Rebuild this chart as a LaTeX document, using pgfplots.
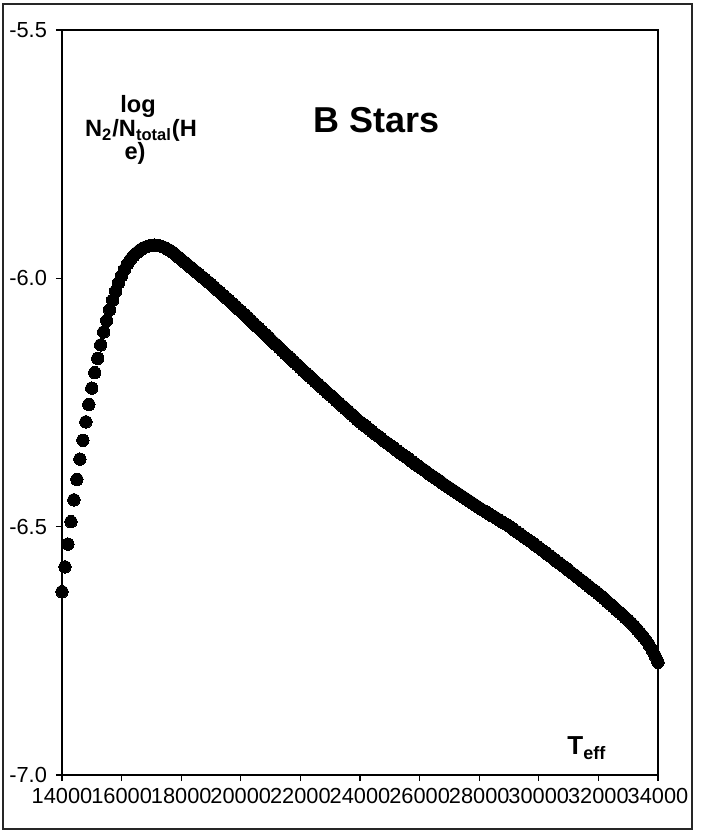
\documentclass[border=0pt]{standalone}
\usepackage{pgfplots}
\pgfplotsset{compat=1.18}
\usepackage{fontspec}
\setmainfont{Liberation Sans}

\pgfplotstableread{
T v
14000 -6.631
14100 -6.581
14200 -6.535
14300 -6.490
14400 -6.446
14500 -6.405
14600 -6.364
14700 -6.326
14800 -6.289
14900 -6.254
15000 -6.221
15100 -6.190
15200 -6.161
15300 -6.134
15400 -6.108
15500 -6.085
15600 -6.063
15700 -6.044
15800 -6.026
15900 -6.009
16000 -5.995
16100 -5.982
16200 -5.971
16300 -5.962
16400 -5.955
16500 -5.949
16600 -5.944
16700 -5.940
16800 -5.937
16900 -5.935
17000 -5.934
17100 -5.933
17200 -5.934
17300 -5.935
17400 -5.937
17500 -5.940
17600 -5.943
17700 -5.947
17800 -5.952
17900 -5.957
18000 -5.962
18100 -5.967
18200 -5.972
18300 -5.977
18400 -5.982
18500 -5.987
18600 -5.992
18700 -5.997
18800 -6.002
18900 -6.007
19000 -6.012
19100 -6.017
19200 -6.023
19300 -6.028
19400 -6.034
19500 -6.039
19600 -6.044
19700 -6.050
19800 -6.055
19900 -6.061
20000 -6.066
20100 -6.072
20200 -6.077
20300 -6.083
20400 -6.089
20500 -6.095
20600 -6.100
20700 -6.106
20800 -6.112
20900 -6.117
21000 -6.123
21100 -6.129
21200 -6.134
21300 -6.140
21400 -6.146
21500 -6.152
21600 -6.157
21700 -6.163
21800 -6.169
21900 -6.174
22000 -6.180
22100 -6.186
22200 -6.191
22300 -6.197
22400 -6.202
22500 -6.208
22600 -6.213
22700 -6.219
22800 -6.224
22900 -6.230
23000 -6.235
23100 -6.240
23200 -6.246
23300 -6.251
23400 -6.257
23500 -6.262
23600 -6.267
23700 -6.273
23800 -6.278
23900 -6.284
24000 -6.289
24100 -6.294
24200 -6.298
24300 -6.303
24400 -6.308
24500 -6.313
24600 -6.317
24700 -6.322
24800 -6.327
24900 -6.331
25000 -6.336
25100 -6.340
25200 -6.345
25300 -6.349
25400 -6.354
25500 -6.358
25600 -6.362
25700 -6.367
25800 -6.371
25900 -6.376
26000 -6.380
26100 -6.384
26200 -6.388
26300 -6.393
26400 -6.397
26500 -6.401
26600 -6.405
26700 -6.409
26800 -6.414
26900 -6.418
27000 -6.422
27100 -6.426
27200 -6.430
27300 -6.434
27400 -6.438
27500 -6.442
27600 -6.446
27700 -6.450
27800 -6.454
27900 -6.458
28000 -6.462
28100 -6.466
28200 -6.469
28300 -6.473
28400 -6.477
28500 -6.480
28600 -6.484
28700 -6.488
28800 -6.492
28900 -6.495
29000 -6.499
29100 -6.503
29200 -6.508
29300 -6.512
29400 -6.516
29500 -6.521
29600 -6.525
29700 -6.529
29800 -6.533
29900 -6.538
30000 -6.542
30100 -6.547
30200 -6.551
30300 -6.556
30400 -6.560
30500 -6.565
30600 -6.570
30700 -6.574
30800 -6.579
30900 -6.583
31000 -6.588
31100 -6.593
31200 -6.597
31300 -6.602
31400 -6.607
31500 -6.611
31600 -6.616
31700 -6.621
31800 -6.626
31900 -6.630
32000 -6.635
32100 -6.640
32200 -6.645
32300 -6.651
32400 -6.656
32500 -6.661
32600 -6.667
32700 -6.672
32800 -6.677
32900 -6.683
33000 -6.688
33100 -6.694
33200 -6.700
33300 -6.707
33400 -6.714
33500 -6.721
33600 -6.729
33700 -6.738
33800 -6.748
33900 -6.760
34000 -6.773
}\datatable

\begin{document}
\begin{tikzpicture}[x=1pt,y=1pt]
\useasboundingbox (0,0) rectangle (353,417.5);
\fill[white] (0,0) rectangle (353,417.5);
\draw[line width=0.6pt, black!85] (1.5,3) rectangle (346,415.5);
\begin{axis}[
  at={(31pt,30pt)}, anchor=south west,
  scale only axis, width=298pt, height=372.5pt,
  xmin=14000, xmax=34000, ymin=-7, ymax=-5.5,
  xtick={14000,16000,...,34000},
  ytick={-7,-6.5,-6,-5.5},
  minor tick num=0,
  tick pos=left,
  tick align=outside, major tick length=3pt,
  tick style={black, line width=0.6pt},
  axis line style={black, line width=0.8pt},
  scaled ticks=false,
  xticklabel style={/pgf/number format/set thousands separator={}, /pgf/number format/assume math mode=true},
  yticklabel style={/pgf/number format/fixed, /pgf/number format/fixed zerofill, /pgf/number format/precision=1, /pgf/number format/assume math mode=true, xshift=-1pt},
  ticklabel style={font=\fontsize{10.9}{12}\selectfont},
  clip=false,
]
\addplot[only marks, mark=*, mark size=3.1pt, mark options={fill=black, draw=black, line width=0pt}] table[x=T, y=v] {\datatable};
\end{axis}
\node[anchor=base, font=\fontsize{18}{20}\selectfont\bfseries] at (188.5,351.2) {B Stars};
\node[anchor=base, font=\fontsize{11.8}{13}\selectfont\bfseries] at (69,361) {log};
\node[anchor=base, font=\fontsize{11.8}{13}\selectfont\bfseries] at (70.5,349) {N\textsubscript{2}/N\textsubscript{total}(H};
\node[anchor=base, font=\fontsize{11.8}{13}\selectfont\bfseries] at (67.5,337.5) {e)};
\node[anchor=base west, font=\fontsize{13}{14}\selectfont\bfseries, inner sep=0pt] at (283.5,40) {T\raisebox{-2.5pt}{\fontsize{9}{10}\selectfont eff}};
\end{tikzpicture}
\end{document}
